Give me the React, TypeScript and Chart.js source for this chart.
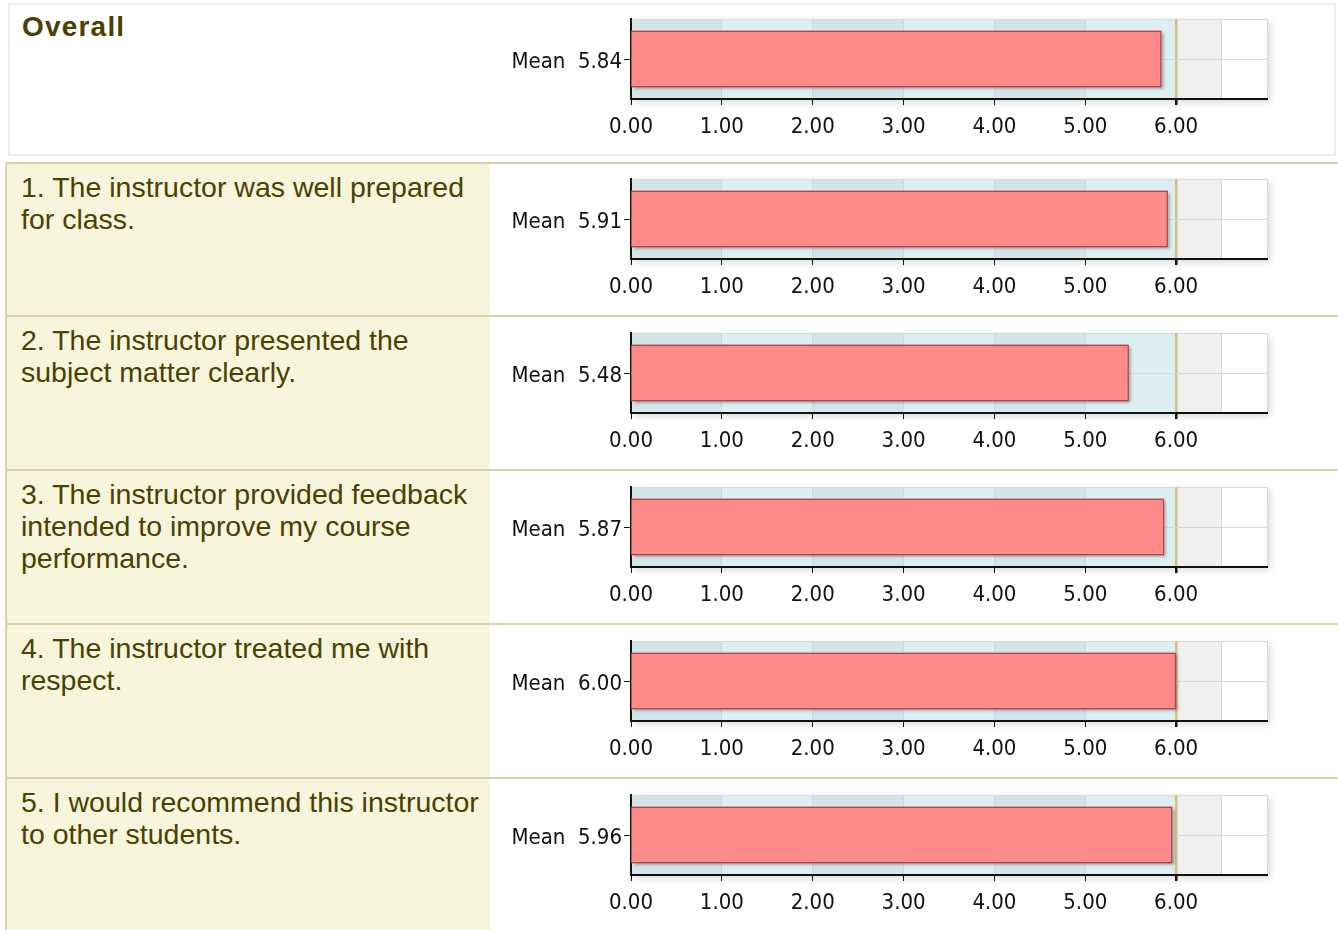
import React, { useEffect, useRef } from "react";
import { Chart, registerables } from "chart.js";

Chart.register(...registerables);

// ---------- data ----------
const overallTitle = "Overall";
const questionLines: string[][] = [
  ["1. The instructor was well prepared", "for class."],
  ["2. The instructor presented the", "subject matter clearly."],
  ["3. The instructor provided feedback", "intended to improve my course", "performance."],
  ["4. The instructor treated me with", "respect."],
  ["5. I would recommend this instructor", "to other students."],
];
const overallMean = 5.84;
const questionMeans = [5.91, 5.48, 5.87, 6.0, 5.96];
const xTickValues = [0, 1, 2, 3, 4, 5, 6];
const xTickLabels = ["0.00", "1.00", "2.00", "3.00", "4.00", "5.00", "6.00"];
const axisMin = 0;
const axisMax = 7;
const targetValue = 6;
const gridValues = [0, 1, 2, 3, 4, 5, 6, 6.5, 7];

// ---------- style ----------
const bandStops = [0, 1, 2, 3, 4, 5, 6, 6.5, 7];
const bandColors = ["#d4e5ea", "#deeff4", "#d4e5ea", "#deeff4", "#d4e5ea", "#deeff4", "#f0f0f0", "#ffffff"];
const chartFont = { family: '"DejaVu Sans Condensed", "DejaVu Sans", sans-serif', size: 22 };
const textColor = "#4b4100";
const tan = "#dad2ab";
const beige = "#f8f5dd";

const meanLabel = (m: number) => `Mean  ${m.toFixed(2)}`;

const plotPlugin = {
  id: "plotPlugin",
  beforeDraw(chart: any) {
    const { ctx, chartArea: a, scales } = chart;
    const x = scales.x;
    ctx.save();
    ctx.shadowColor = "rgba(0,0,0,0.16)";
    ctx.shadowBlur = 7;
    ctx.shadowOffsetX = 3;
    ctx.shadowOffsetY = 3;
    ctx.fillStyle = "#ffffff";
    ctx.fillRect(a.left, a.top, a.width, a.height);
    ctx.restore();
    ctx.save();
    for (let i = 0; i < bandStops.length - 1; i++) {
      const x0 = x.getPixelForValue(bandStops[i]);
      const x1 = x.getPixelForValue(bandStops[i + 1]);
      ctx.fillStyle = bandColors[i];
      ctx.fillRect(x0, a.top, x1 - x0, a.height);
    }
    ctx.strokeStyle = "#d9d9d9";
    ctx.lineWidth = 1;
    ctx.beginPath();
    ctx.moveTo(a.left, a.top + 0.5);
    ctx.lineTo(a.right, a.top + 0.5);
    ctx.stroke();
    ctx.restore();
  },
  beforeDatasetsDraw(chart: any) {
    const { ctx } = chart;
    const meta = chart.getDatasetMeta(0);
    ctx.save();
    ctx.shadowColor = "rgba(0,0,0,0.35)";
    ctx.shadowBlur = 3;
    ctx.shadowOffsetX = 2;
    ctx.shadowOffsetY = 2;
    ctx.fillStyle = "#ff8a8a";
    meta.data.forEach((bar: any) => {
      const p = bar.getProps(["x", "y", "base", "height"], true);
      ctx.fillRect(p.base, p.y - p.height / 2, p.x - p.base, p.height);
    });
    ctx.restore();
  },
};

function MeanChart({ mean, top }: { mean: number; top: number }) {
  const ref = useRef<HTMLCanvasElement>(null);
  useEffect(() => {
    const chart = new Chart(ref.current as HTMLCanvasElement, {
      type: "bar",
      data: {
        labels: [meanLabel(mean)],
        datasets: [
          {
            data: [mean],
            backgroundColor: "#ff8a8a",
            borderColor: "rgba(130,55,55,0.75)",
            borderWidth: 1.5,
            barPercentage: 0.71,
            categoryPercentage: 1,
          },
        ],
      },
      options: {
        indexAxis: "y",
        animation: false,
        responsive: false,
        maintainAspectRatio: false,
        devicePixelRatio: 1,
        layout: { padding: { top: 17, right: 33, left: 0, bottom: 0 } },
        plugins: { legend: { display: false }, tooltip: { enabled: false } },
        scales: {
          x: {
            type: "linear",
            min: axisMin,
            max: axisMax,
            afterBuildTicks: (scale: any) => {
              scale.ticks = gridValues.map((value) => ({ value }));
            },
            afterFit: (scale: any) => {
              scale.height = 43;
            },
            ticks: {
              autoSkip: false,
              maxRotation: 0,
              padding: 9,
              color: "#111",
              font: chartFont,
              callback: (value: any) => {
                const i = xTickValues.indexOf(Number(value));
                return i >= 0 ? xTickLabels[i] : "";
              },
            },
            grid: {
              tickLength: 6,
              color: (ctx: any) => {
                const v = ctx.tick ? ctx.tick.value : -1;
                if (v === targetValue) return "#d4c07e";
                if (v > targetValue) return "#d8d8d8";
                if (v > axisMin && Number.isInteger(v)) return "#c6dae0";
                return "rgba(0,0,0,0)";
              },
              lineWidth: (ctx: any) => (ctx.tick && ctx.tick.value === targetValue ? 2.5 : 1),
              tickColor: (ctx: any) => {
                const v = ctx.tick ? ctx.tick.value : -1;
                return xTickValues.includes(v) ? "#111" : "rgba(0,0,0,0)";
              },
            },
            border: { color: "#111", width: 2 },
          },
          y: {
            type: "category",
            afterFit: (scale: any) => {
              scale.width = 131;
            },
            ticks: { padding: 2, labelOffset: 3, color: "#111", font: chartFont },
            grid: { offset: false, color: "#d8d8d8", tickColor: "#111", tickLength: 7, lineWidth: 1 },
            border: { color: "#111", width: 2 },
          },
        },
      } as any,
      plugins: [plotPlugin as any],
    });
    return () => chart.destroy();
  }, [mean]);
  return (
    <canvas
      ref={ref}
      width={800}
      height={140}
      style={{ position: "absolute", left: 500, top, width: 800, height: 140 }}
    />
  );
}

const rowTops = [162, 315, 469, 623, 777];

export default function App() {
  return (
    <div
      style={{
        position: "absolute",
        left: 0,
        top: 0,
        width: 1338,
        height: 930,
        overflow: "hidden",
        background: "#ffffff",
        fontFamily: '"Liberation Sans", Arial, sans-serif',
      }}
    >
      <div
        style={{
          position: "absolute",
          left: 8,
          top: 3,
          width: 1328,
          height: 153,
          boxSizing: "border-box",
          border: "2px solid #ececec",
          background: "#fff",
        }}
      />
      <div
        style={{
          position: "absolute",
          left: 22,
          top: 11,
          fontSize: 28,
          lineHeight: "32px",
          fontWeight: "bold",
          letterSpacing: 1.2,
          color: textColor,
        }}
      >
        {overallTitle}
      </div>
      <MeanChart mean={overallMean} top={2} />
      {questionLines.map((lines, i) => {
        const top = rowTops[i];
        const height = (rowTops[i + 1] ?? 931) - top;
        return (
          <React.Fragment key={i}>
            <div
              style={{
                position: "absolute",
                left: 5,
                top,
                width: 1333,
                height,
                boxSizing: "border-box",
                borderTop: `2px solid ${tan}`,
                borderLeft: `2px solid ${tan}`,
                background: "#fff",
              }}
            >
              <div
                style={{
                  position: "absolute",
                  left: 0,
                  top: 0,
                  width: 483,
                  height: height - 2,
                  background: beige,
                }}
              />
            </div>
            <div
              style={{
                position: "absolute",
                left: 21,
                top: top + 9,
                fontSize: 28.5,
                lineHeight: "32px",
                color: textColor,
                whiteSpace: "nowrap",
              }}
            >
              {lines.map((l, j) => (
                <div key={j}>{l}</div>
              ))}
            </div>
            <MeanChart mean={questionMeans[i]} top={162 + i * 154} />
          </React.Fragment>
        );
      })}
    </div>
  );
}
